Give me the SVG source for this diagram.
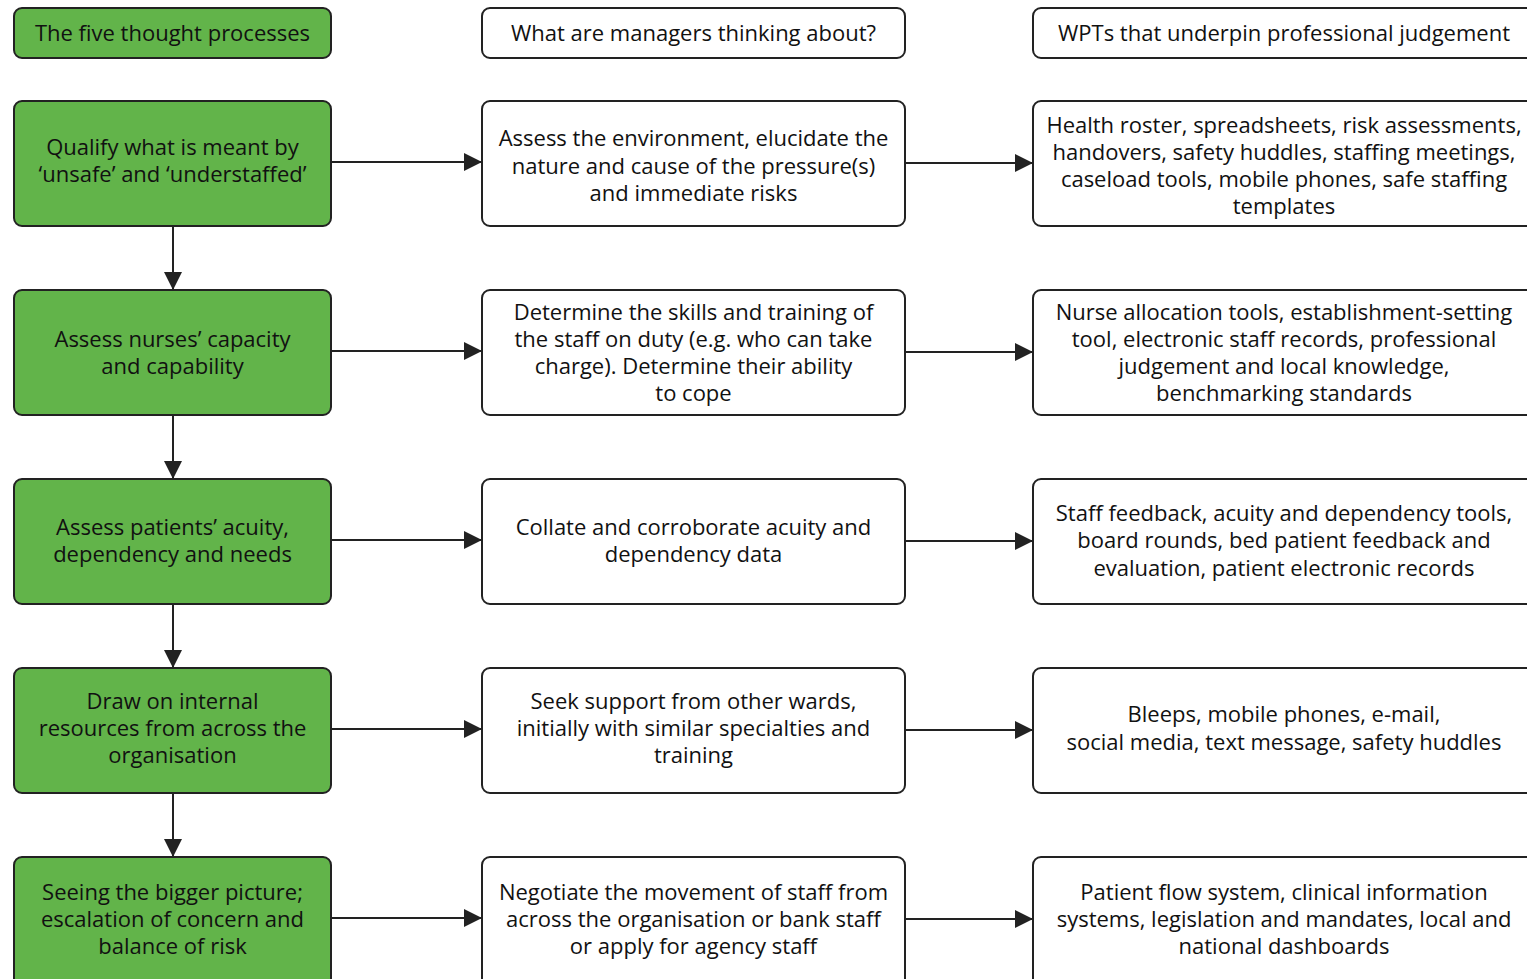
<svg xmlns="http://www.w3.org/2000/svg" width="1527" height="979" viewBox="0 0 1527 979">
<style>
.g{fill:#62b44a;stroke:#222;stroke-width:2}
.w{fill:#fff;stroke:#222;stroke-width:2}
text{font-family:"Open Sans","Noto Sans",sans-serif;font-size:22px;fill:#111;text-anchor:middle}
.c{stroke:#222;stroke-width:2;fill:none}
</style>
<defs>
<marker id="ah" markerWidth="18" markerHeight="18" viewBox="0 0 18 18" refX="18" refY="9" orient="auto" markerUnits="userSpaceOnUse">
<path d="M0,0 L18,9 L0,18 Z" fill="#222"/>
</marker>
</defs>
<rect width="1527" height="979" fill="#fff"/>
<g id="h1"><rect class="g" x="14" y="8" width="317" height="50" rx="8"/><text x="172.5" y="41">The five thought processes</text></g>
<g id="h2"><rect class="w" x="482" y="8" width="423" height="50" rx="8"/><text x="693.5" y="41">What are managers thinking about?</text></g>
<g id="h3"><rect class="w" x="1033" y="8" width="510" height="50" rx="8"/><text x="1284" y="41">WPTs that underpin professional judgement</text></g>

<g id="g1"><rect class="g" x="14" y="101" width="317" height="125" rx="8"/><text x="172.5" y="155">Qualify what is meant by</text><text x="172.5" y="182">‘unsafe’ and ‘understaffed’</text></g>
<g id="m1"><rect class="w" x="482" y="101" width="423" height="125" rx="8"/><text x="693.5" y="146">Assess the environment, elucidate the</text><text x="693.5" y="174">nature and cause of the pressure(s)</text><text x="693.5" y="201">and immediate risks</text></g>
<g id="r1"><rect class="w" x="1033" y="101" width="510" height="125" rx="8"/><text x="1284" y="133">Health roster, spreadsheets, risk assessments,</text><text x="1284" y="160">handovers, safety huddles, staffing meetings,</text><text x="1284" y="187">caseload tools, mobile phones, safe staffing</text><text x="1284" y="214">templates</text></g>

<g id="g2"><rect class="g" x="14" y="290" width="317" height="125" rx="8"/><text x="172.5" y="347">Assess nurses’ capacity</text><text x="172.5" y="374">and capability</text></g>
<g id="m2"><rect class="w" x="482" y="290" width="423" height="125" rx="8"/><text x="693.5" y="320">Determine the skills and training of</text><text x="693.5" y="347">the staff on duty (e.g. who can take</text><text x="693.5" y="374">charge). Determine their ability</text><text x="693.5" y="401">to cope</text></g>
<g id="r2"><rect class="w" x="1033" y="290" width="510" height="125" rx="8"/><text x="1284" y="320">Nurse allocation tools, establishment-setting</text><text x="1284" y="347">tool, electronic staff records, professional</text><text x="1284" y="374">judgement and local knowledge,</text><text x="1284" y="401">benchmarking standards</text></g>

<g id="g3"><rect class="g" x="14" y="479" width="317" height="125" rx="8"/><text x="172.5" y="535">Assess patients’ acuity,</text><text x="172.5" y="562">dependency and needs</text></g>
<g id="m3"><rect class="w" x="482" y="479" width="423" height="125" rx="8"/><text x="693.5" y="535">Collate and corroborate acuity and</text><text x="693.5" y="562">dependency data</text></g>
<g id="r3"><rect class="w" x="1033" y="479" width="510" height="125" rx="8"/><text x="1284" y="521">Staff feedback, acuity and dependency tools,</text><text x="1284" y="548">board rounds, bed patient feedback and</text><text x="1284" y="576">evaluation, patient electronic records</text></g>

<g id="g4"><rect class="g" x="14" y="668" width="317" height="125" rx="8"/><text x="172.5" y="709">Draw on internal</text><text x="172.5" y="736">resources from across the</text><text x="172.5" y="763">organisation</text></g>
<g id="m4"><rect class="w" x="482" y="668" width="423" height="125" rx="8"/><text x="693.5" y="709">Seek support from other wards,</text><text x="693.5" y="736">initially with similar specialties and</text><text x="693.5" y="763">training</text></g>
<g id="r4"><rect class="w" x="1033" y="668" width="510" height="125" rx="8"/><text x="1284" y="722">Bleeps, mobile phones, e-mail,</text><text x="1284" y="750">social media, text message, safety huddles</text></g>

<g id="g5"><rect class="g" x="14" y="857" width="317" height="130" rx="8"/><text x="172.5" y="900">Seeing the bigger picture;</text><text x="172.5" y="927">escalation of concern and</text><text x="172.5" y="954">balance of risk</text></g>
<g id="m5"><rect class="w" x="482" y="857" width="423" height="130" rx="8"/><text x="693.5" y="900">Negotiate the movement of staff from</text><text x="693.5" y="927">across the organisation or bank staff</text><text x="693.5" y="954">or apply for agency staff</text></g>
<g id="r5"><rect class="w" x="1033" y="857" width="510" height="130" rx="8"/><text x="1284" y="900">Patient flow system, clinical information</text><text x="1284" y="927">systems, legislation and mandates, local and</text><text x="1284" y="954">national dashboards</text></g>

<g id="connectors">
<line class="c" x1="331" y1="162" x2="482" y2="162" marker-end="url(#ah)"/>
<line class="c" x1="905" y1="163" x2="1033" y2="163" marker-end="url(#ah)"/>
<line class="c" x1="331" y1="351" x2="482" y2="351" marker-end="url(#ah)"/>
<line class="c" x1="905" y1="352" x2="1033" y2="352" marker-end="url(#ah)"/>
<line class="c" x1="331" y1="540" x2="482" y2="540" marker-end="url(#ah)"/>
<line class="c" x1="905" y1="541" x2="1033" y2="541" marker-end="url(#ah)"/>
<line class="c" x1="331" y1="729" x2="482" y2="729" marker-end="url(#ah)"/>
<line class="c" x1="905" y1="730" x2="1033" y2="730" marker-end="url(#ah)"/>
<line class="c" x1="331" y1="918" x2="482" y2="918" marker-end="url(#ah)"/>
<line class="c" x1="905" y1="919" x2="1033" y2="919" marker-end="url(#ah)"/>
<line class="c" x1="173" y1="226" x2="173" y2="290" marker-end="url(#ah)"/>
<line class="c" x1="173" y1="415" x2="173" y2="479" marker-end="url(#ah)"/>
<line class="c" x1="173" y1="604" x2="173" y2="668" marker-end="url(#ah)"/>
<line class="c" x1="173" y1="793" x2="173" y2="857" marker-end="url(#ah)"/>
</g>
</svg>
